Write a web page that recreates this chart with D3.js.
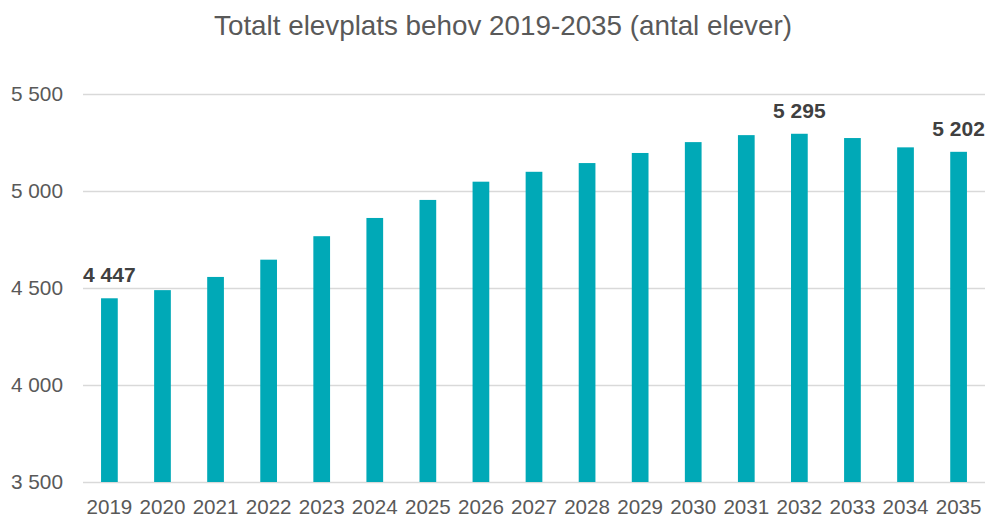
<!DOCTYPE html>
<html>
<head>
<meta charset="utf-8">
<script src="https://cdn.jsdelivr.net/npm/d3@7"></script>
<style>
  body { margin: 0; background: #fff; }
  svg { display: block; font-family: 'Liberation Sans', Arial, sans-serif; }
</style>
</head>
<body>
<svg id="chart"></svg>
<script>
// data
const years = ['2019', '2020', '2021', '2022', '2023', '2024', '2025', '2026', '2027',
  '2028', '2029', '2030', '2031', '2032', '2033', '2034', '2035'];
const pupils = [4447, 4489, 4557, 4646, 4767, 4861, 4954, 5048, 5099,
  5144, 5196, 5252, 5288, 5295, 5273, 5225, 5202];
const labelledYears = ['2019', '2032', '2035'];
const yTicks = [3500, 4000, 4500, 5000, 5500];

const w = 987;
const h = 517;
const margin = { top: 94, right: 2, bottom: 35, left: 83 };

const svg = d3.select('#chart')
  .attr('width', w)
  .attr('height', h);

const fmt = d3.formatLocale({ decimal: ',', thousands: ' ', grouping: [3], currency: ['', ' kr'] }).format(',d');

const x = d3.scaleBand()
  .domain(years)
  .range([margin.left, w - margin.right])
  .paddingInner(0.685)
  .paddingOuter(0.34);

const y = d3.scaleLinear()
  .domain([3500, 5500])
  .range([h - margin.bottom, margin.top]);

// title
svg.append('text')
  .attr('x', 503)
  .attr('y', 35)
  .attr('text-anchor', 'middle')
  .attr('fill', '#595959')
  .style('font-size', '27.8px')
  .text('Totalt elevplats behov 2019-2035 (antal elever)');

// gridlines
svg.append('g')
  .selectAll('line')
  .data(yTicks)
  .join('line')
  .attr('x1', margin.left)
  .attr('x2', w - margin.right)
  .attr('y1', (d) => Math.round(y(d)) + 0.5)
  .attr('y2', (d) => Math.round(y(d)) + 0.5)
  .attr('stroke', '#d9d9d9')
  .attr('stroke-width', 1.3);

// y axis
const yAxis = d3.axisLeft(y).tickValues(yTicks).tickFormat(fmt).tickSize(0).tickPadding(20);
svg.append('g')
  .attr('transform', `translate(${margin.left},0)`)
  .call(yAxis)
  .call((g) => g.select('.domain').remove())
  .selectAll('text')
  .attr('fill', '#595959')
  .style('font-size', '20.8px')
  .style('font-family', "'Liberation Sans', Arial, sans-serif");

// x axis
const xAxis = d3.axisBottom(x).tickSize(0).tickPadding(17);
svg.append('g')
  .attr('transform', `translate(0,${h - margin.bottom})`)
  .call(xAxis)
  .call((g) => g.select('.domain').remove())
  .selectAll('text')
  .attr('fill', '#595959')
  .style('font-size', '20.6px')
  .style('font-family', "'Liberation Sans', Arial, sans-serif");

// bars
svg.append('g')
  .selectAll('rect')
  .data(years)
  .join('rect')
  .attr('x', (d) => x(d))
  .attr('y', (d, i) => y(pupils[i]))
  .attr('width', x.bandwidth())
  .attr('height', (d, i) => y(3500) - y(pupils[i]))
  .attr('fill', '#00a9b7');

// data labels
svg.append('g')
  .selectAll('text')
  .data(labelledYears)
  .join('text')
  .attr('x', (d) => x(d) + x.bandwidth() / 2)
  .attr('y', (d) => y(pupils[years.indexOf(d)]) - 16)
  .attr('text-anchor', 'middle')
  .attr('fill', '#404040')
  .style('font-size', '21px')
  .style('font-weight', 'bold')
  .text((d) => fmt(pupils[years.indexOf(d)]));
</script>
</body>
</html>
